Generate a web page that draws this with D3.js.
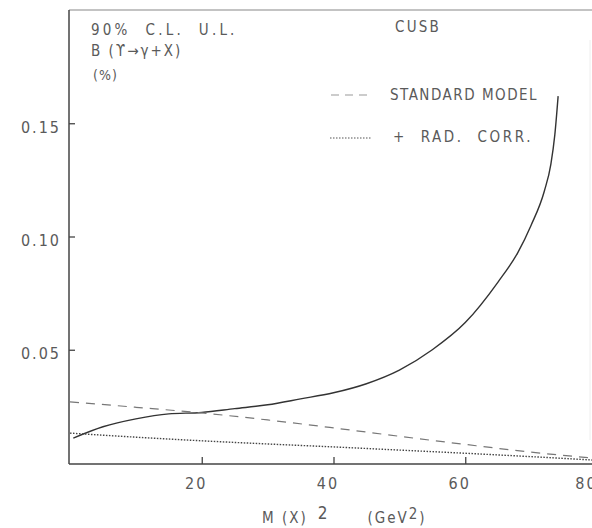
<!DOCTYPE html>
<html>
<head>
<meta charset="utf-8">
<script src="https://cdn.jsdelivr.net/npm/d3@7"></script>
<style>
  body { margin: 0; background: #fff; }
  text { font-family: "DejaVu Sans", sans-serif; font-stretch: condensed; fill: #5a5a5a; }
</style>
</head>
<body>
<div id="chart"></div>
<script>
// values (x = M(X)^2 in GeV^2, y = branching ratio in %)
const ulX = [0.5, 5, 10, 15, 20, 25, 30, 35, 40, 45, 50, 55, 60, 65, 68, 70, 72, 73, 73.6, 74.1];
const ulY = [0.011, 0.016, 0.0195, 0.0217, 0.0223, 0.024, 0.0257, 0.0283, 0.031, 0.035, 0.041, 0.050, 0.062, 0.080, 0.093, 0.105, 0.12, 0.132, 0.145, 0.162];
const smX = [0, 10, 20, 30, 40, 50, 60, 70, 80];
const smY = [0.027, 0.0246, 0.0221, 0.0190, 0.0155, 0.0118, 0.0082, 0.0048, 0.0020];
const rcX = [0, 10, 20, 30, 40, 50, 60, 70, 80];
const rcY = [0.0132, 0.0114, 0.0098, 0.0084, 0.0071, 0.0057, 0.0043, 0.0028, 0.0012];
const xTicks = [20, 40, 60, 80];
const yTicks = [0.05, 0.10, 0.15];

const width = 592, height = 528;
const svg = d3.select('#chart').append('svg')
  .attr('width', width)
  .attr('height', height);

const x = d3.scaleLinear().domain([0, 80]).range([70, 597]);
const y = d3.scaleLinear().domain([0, 0.2]).range([463, 10]);

// frame
svg.append('line').attr('x1', 69).attr('x2', 592).attr('y1', 10).attr('y2', 10)
  .attr('stroke', '#888').attr('stroke-width', 1.2);
svg.append('line').attr('x1', 590).attr('x2', 590).attr('y1', 40).attr('y2', 440)
  .attr('stroke', '#eee').attr('stroke-width', 1);

const xAxis = svg.append('g').attr('transform', 'translate(0,464)')
  .call(d3.axisBottom(x).tickValues(xTicks).tickSize(-7).tickPadding(14).tickFormat(d3.format('d')));
const yAxis = svg.append('g').attr('transform', 'translate(69,0)')
  .call(d3.axisLeft(y).tickValues(yTicks).tickSize(-6).tickPadding(8).tickFormat(d => d.toFixed(2)));

[xAxis, yAxis].forEach(g => {
  g.select('.domain').attr('stroke', '#444').attr('stroke-width', 1.5);
  g.selectAll('.tick line').attr('stroke', '#444').attr('stroke-width', 1.3);
  g.selectAll('.tick text').attr('fill', '#5a5a5a').style('font-size', '16px').attr('letter-spacing', '2px');
});
xAxis.selectAll('.tick text').attr('dx', d => d === 80 ? -11 : -6);
yAxis.selectAll('.tick text').attr('dy', '0.55em');
xAxis.select('.domain').attr('d', 'M69,0H592');
yAxis.select('.domain').attr('d', 'M0,10V464');

// curves
const line = d3.line().x(d => x(d[0])).y(d => y(d[1])).curve(d3.curveMonotoneX);

svg.append('path').datum(ulX.map((v, i) => [v, ulY[i]]))
  .attr('d', line).attr('fill', 'none').attr('stroke', '#333').attr('stroke-width', 1.4);
svg.append('path').datum(smX.map((v, i) => [v, smY[i]]))
  .attr('d', line).attr('fill', 'none').attr('stroke', '#777').attr('stroke-width', 1.2)
  .attr('stroke-dasharray', '9,7');
svg.append('path').datum(rcX.map((v, i) => [v, rcY[i]]))
  .attr('d', line).attr('fill', 'none').attr('stroke', '#444').attr('stroke-width', 1.4)
  .attr('stroke-dasharray', '1.5,1.5');

// labels
const label = (tx, ty, str, size, sp) => svg.append('text')
  .attr('x', tx).attr('y', ty).style('font-size', (size || 15) + 'px')
  .attr('letter-spacing', (sp || 1.5) + 'px').style('white-space', 'pre').text(str);

label(91, 35, '90%  C.L.  U.L.', 15, 3.2);
label(91, 56, 'B (ϒ→γ+X)', 15, 2);
label(93, 80, '(%)', 14, 1);
label(395, 32, 'CUSB', 15, 2.2);
label(390, 100, 'STANDARD MODEL', 15, 1.5);
label(393, 142, '+  RAD.  CORR.', 15, 2.6);

svg.append('line').attr('x1', 331).attr('x2', 372).attr('y1', 95).attr('y2', 95)
  .attr('stroke', '#999').attr('stroke-width', 1.1).attr('stroke-dasharray', '8,6');
svg.append('line').attr('x1', 330).attr('x2', 372).attr('y1', 138).attr('y2', 138)
  .attr('stroke', '#555').attr('stroke-width', 1.2).attr('stroke-dasharray', '1.5,1.5');

const xl = svg.append('text').attr('x', 262).attr('y', 523).style('font-size', '15px')
  .attr('letter-spacing', '2px').style('white-space', 'pre');
xl.append('tspan').text('M (X)');
xl.append('tspan').attr('dx', 10).attr('dy', -4).style('font-size', '17px').text('2');
xl.append('tspan').attr('dy', 4).attr('dx', 38).text('(GeV');
xl.append('tspan').attr('dy', -4).style('font-size', '15px').text('2');
xl.append('tspan').attr('dy', 4).text(')');
</script>
</body>
</html>
